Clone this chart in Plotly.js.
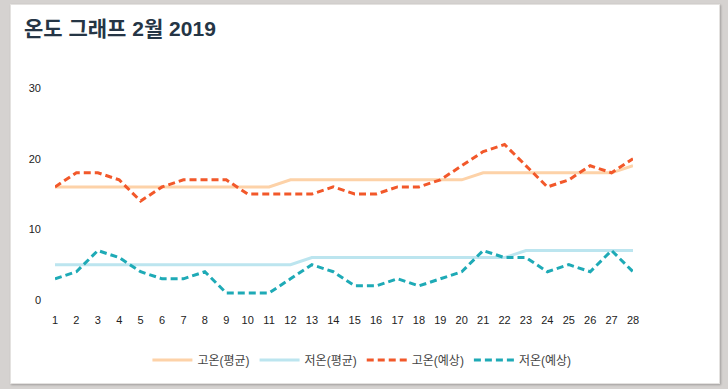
<!DOCTYPE html>
<html>
<head>
<meta charset="utf-8">
<script src="https://cdn.plot.ly/plotly-3.0.1.min.js"></script>
<style>
  html, body { margin: 0; padding: 0; width: 728px; height: 389px; background: #d5d2d0; overflow: hidden; }
  #card { position: absolute; left: 10px; top: 4px; width: 708px; height: 378px; background: #ffffff;
          border: 1px solid #e4e2e0; box-shadow: 1px 1px 2px rgba(0,0,0,0.25); }
  #chart { position: absolute; left: 0; top: 0; width: 728px; height: 389px; }
</style>
</head>
<body>
<div id="card"></div>
<div id="chart"></div>
<script>
const days = Array.from({length: 28}, (_, i) => i + 1);
const highAvg = [16,16,16,16,16,16,16,16,16,16,16,17,17,17,17,17,17,17,17,17,18,18,18,18,18,18,18,19];
const lowAvg  = [5,5,5,5,5,5,5,5,5,5,5,5,6,6,6,6,6,6,6,6,6,6,7,7,7,7,7,7];
const highFc  = [16,18,18,17,14,16,17,17,17,15,15,15,15,16,15,15,16,16,17,19,21,22,19,16,17,19,18,20];
const lowFc   = [3,4,7,6,4,3,3,4,1,1,1,3,5,4,2,2,3,2,3,4,7,6,6,4,5,4,7,4];
const names = ['고온(평균)', '저온(평균)', '고온(예상)', '저온(예상)'];

const traces = [
  {x: days, y: highAvg, name: names[0], mode: 'lines', line: {color: '#fdd2a8', width: 3}},
  {x: days, y: lowAvg,  name: names[1], mode: 'lines', line: {color: '#bce5ef', width: 3}},
  {x: days, y: highFc,  name: names[2], mode: 'lines', line: {color: '#f2582a', width: 3, dash: '7px,4px'}},
  {x: days, y: lowFc,   name: names[3], mode: 'lines', line: {color: '#1eaab6', width: 3, dash: '7px,4px'}}
];

const layout = {
  width: 728, height: 389,
  paper_bgcolor: 'rgba(0,0,0,0)', plot_bgcolor: 'rgba(0,0,0,0)',
  margin: {l: 55, r: 95, t: 88, b: 89},
  font: {family: 'Liberation Sans, Arial, Noto Sans CJK KR, sans-serif', color: '#333', size: 11},
  title: {text: '<b>온도 그래프 2월 2019</b>', x: 24/728, xanchor: 'left', y: 1 - 29/389, yanchor: 'middle',
          font: {family: 'Liberation Sans Narrow, Liberation Sans, Noto Sans CJK KR, sans-serif', size: 21, color: '#253545'}},
  xaxis: {range: [1, 28], tickvals: days, ticktext: days.map(String), showgrid: false, zeroline: false,
          showline: false, ticks: '', ticklabelstandoff: 12, tickfont: {size: 11, color: '#222'}, fixedrange: true},
  yaxis: {range: [0, 30], tickvals: [0, 10, 20, 30], showgrid: false, zeroline: false, showline: false,
          ticks: '', ticklabelstandoff: 13, tickfont: {size: 11, color: '#222'}, fixedrange: true},
  showlegend: true,
  legend: {orientation: 'h', x: 0.531, xref: 'paper', xanchor: 'center', y: -0.283, yanchor: 'middle',
           font: {size: 12, color: '#444'}, itemwidth: 40, tracegroupgap: 0}
};

Plotly.newPlot('chart', traces, layout, {displayModeBar: false, staticPlot: true});
</script>
</body>
</html>
